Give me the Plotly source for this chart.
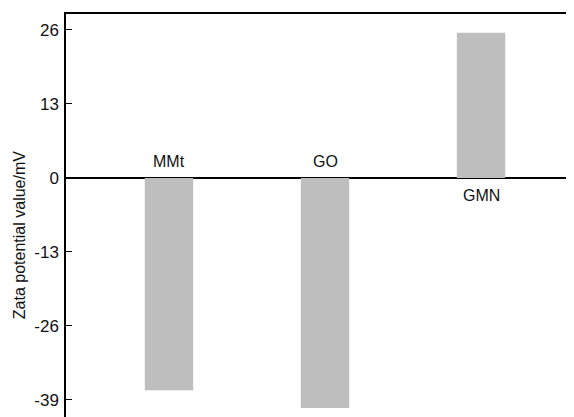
import plotly.graph_objects as go

categories = ["MMt", "GO", "GMN"]
values = [-37.3, -40.4, 25.5]
tick_vals = [26, 13, 0, -13, -26, -39]
tick_text = ["26", "13", "0", "-13", "-26", "-39"]
y_title = "Zata potential value/mV"

FONT = "Liberation Sans, Arial, Helvetica"

fig = go.Figure()
fig.add_trace(go.Bar(
    x=[0, 1, 2], y=values,
    marker=dict(color="#bebebe", line=dict(width=0)),
    width=0.31, showlegend=False, hoverinfo="skip",
))

for i, (c, v) in enumerate(zip(categories, values)):
    fig.add_annotation(
        x=i, y=0, text=c, showarrow=False,
        yshift=16 if v < 0 else -18,
        font=dict(family=FONT, size=16, color="#111"),
    )

fig.add_annotation(
    xref="paper", yref="paper", x=-0.091, y=0.462, text=y_title,
    xanchor="center", yanchor="middle",
    textangle=-90, showarrow=False,
    font=dict(family=FONT, size=16, color="#111"),
)

fig.update_layout(
    width=574, height=417,
    margin=dict(l=58, r=0, t=6, b=0, autoexpand=False),
    paper_bgcolor="white", plot_bgcolor="white",
    font=dict(family=FONT, size=16, color="#111"),
    xaxis=dict(range=[-0.66, 2.647], side="top", showline=True, linecolor="black",
               linewidth=2, showticklabels=False, ticks="", showgrid=False,
               zeroline=False, fixedrange=True, automargin=False),
    yaxis=dict(range=[-43.4, 28.8], tickvals=tick_vals, ticktext=tick_text,
               showline=True, linecolor="black", linewidth=1.5,
               ticks="inside", ticklen=6, tickwidth=1.2, tickcolor="black",
               ticklabelstandoff=2,
               showgrid=False, zeroline=True, zerolinecolor="black", zerolinewidth=2,
               tickfont=dict(size=17), fixedrange=True, automargin=False),
)

fig.write_html("out.html")
